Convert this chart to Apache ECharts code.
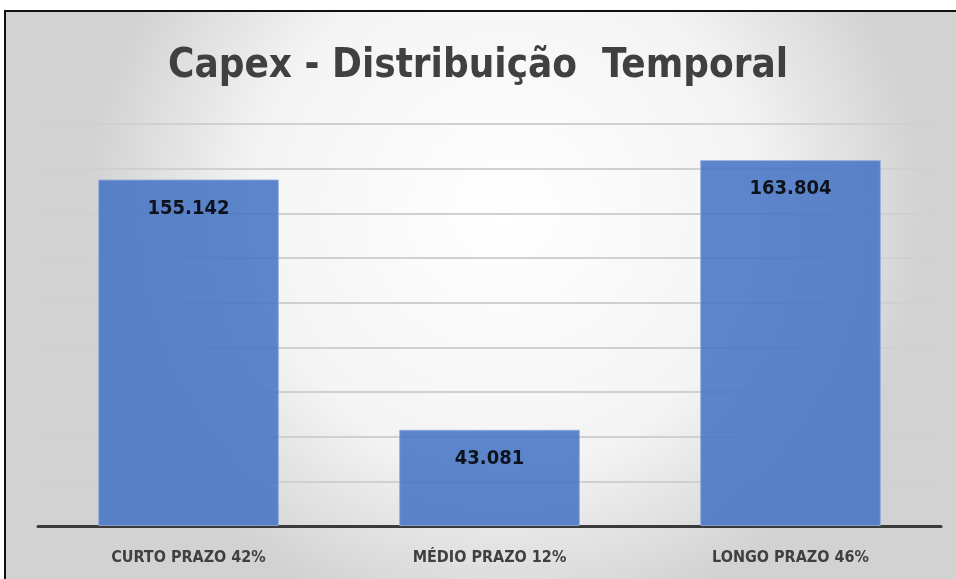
<!DOCTYPE html>
<html>
<head>
<meta charset="utf-8">
<script src="https://cdn.jsdelivr.net/npm/echarts@6/dist/echarts.min.js"></script>
<style>
  html, body { margin: 0; padding: 0; background: #fff; }
  #chart { width: 956px; height: 579px; }
</style>
</head>
<body>
<div id="chart"></div>
<script>
  // dados do grafico
  var categorias = ['CURTO PRAZO 42%', 'MÉDIO PRAZO 12%', 'LONGO PRAZO 46%'];
  var valores = [155.142, 43.081, 163.804];
  var rotulos = ['155.142', '43.081', '163.804'];

  var chart = echarts.init(document.getElementById('chart'));
  chart.setOption({
    animation: false,
    graphic: [
      {
        type: 'rect',
        z: -10,
        shape: { x: 5, y: 11, width: 960, height: 580 },
        style: {
          fill: {
            type: 'radial', x: 0.52, y: 0.35, r: 0.72,
            colorStops: [
              { offset: 0, color: '#ffffff' },
              { offset: 0.6, color: '#f4f4f4' },
              { offset: 1, color: '#d2d2d2' }
            ]
          },
          stroke: '#111',
          lineWidth: 2
        }
      }
    ],
    title: {
      text: 'Capex - Distribuição  Temporal',
      left: 'center',
      top: 42,
      textStyle: {
        fontFamily: 'DejaVu Sans Condensed',
        fontSize: 40,
        fontWeight: 'bold',
        color: '#404040'
      }
    },
    grid: { left: 38, right: 15, top: 124, bottom: 53 },
    xAxis: {
      type: 'category',
      data: categorias,
      axisTick: { show: false },
      axisLine: { lineStyle: { color: '#3a3a3a', width: 3 } },
      axisLabel: {
        margin: 24,
        fontFamily: 'DejaVu Sans Condensed',
        fontSize: 16,
        fontWeight: 'bold',
        color: '#404040'
      }
    },
    yAxis: {
      type: 'value',
      min: 0,
      max: 180,
      interval: 20,
      axisLabel: { show: false },
      axisLine: { show: false },
      axisTick: { show: false },
      splitLine: { lineStyle: { color: '#d0d0d0', width: 2 } }
    },
    series: [{
      type: 'bar',
      data: valores,
      barCategoryGap: '40%',
      itemStyle: { color: '#4472c4', opacity: 0.86, borderColor: '#8fa9dc', borderWidth: 1 },
      label: {
        show: true,
        position: 'insideTop',
        distance: 19,
        formatter: function (p) { return rotulos[p.dataIndex]; },
        fontFamily: 'DejaVu Sans Condensed',
        fontSize: 20,
        fontWeight: 'bold',
        color: '#000'
      }
    }]
  });
</script>
</body>
</html>
